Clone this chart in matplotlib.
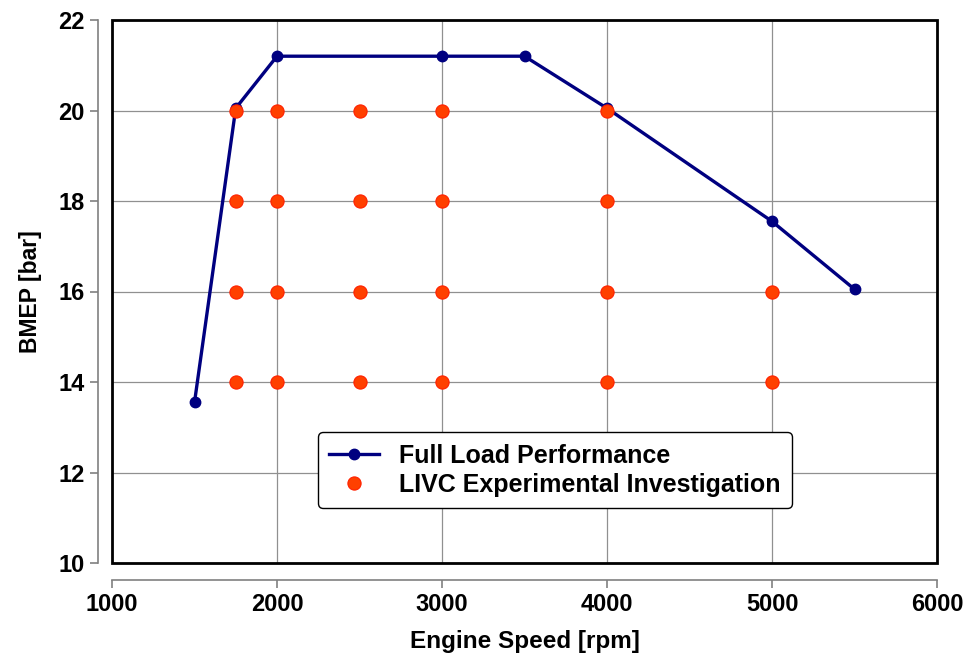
import matplotlib
matplotlib.use("Agg")
import matplotlib.pyplot as plt
from matplotlib.patches import Rectangle

#### -------- データ -------- ####
# Full load curve
full_speed = [1500, 1750, 2000, 3000, 3500, 4000, 5000, 5500]
full_bmep = [13.55, 20.05, 21.2, 21.2, 21.2, 20.05, 17.55, 16.05]

# LIVC experimental points
livc_speed = [1750, 1750, 1750, 1750,
              2000, 2000, 2000, 2000,
              2500, 2500, 2500, 2500,
              3000, 3000, 3000, 3000,
              4000, 4000, 4000, 4000,
              5000, 5000]
livc_bmep = [14, 16, 18, 20,
             14, 16, 18, 20,
             14, 16, 18, 20,
             14, 16, 18, 20,
             14, 16, 18, 20,
             14, 16]

x_ticks = [1000, 2000, 3000, 4000, 5000, 6000]
y_ticks = [10, 12, 14, 16, 18, 20, 22]

#### -------- グラフ設定 -------- ####
plt.rcParams["font.family"] = ["Liberation Sans", "DejaVu Sans"]

fig = plt.figure(figsize=(9.68, 6.56), dpi=100)
ax = fig.add_axes([112 / 968, 1 - 563 / 656, 825 / 968, 543 / 656])

ax.plot(full_speed, full_bmep, color="#000080", lw=2.4, marker="o", ms=7.5,
        label="Full Load Performance", zorder=3)
ax.plot(livc_speed, livc_bmep, linestyle="none", marker="o", ms=9.5,
        color="#FF4000", markeredgecolor="#FF2000", markeredgewidth=0.8,
        label="LIVC Experimental Investigation", zorder=4)

ax.set_xlim(1000, 6000)
ax.set_ylim(10, 22)
ax.set_xticks(x_ticks)
ax.set_yticks(y_ticks)
ax.grid(True, color="#909090", lw=0.9)
ax.set_axisbelow(True)

# black plot-area frame, gray offset axes
ax.add_patch(Rectangle((0, 0), 1, 1, transform=ax.transAxes, fill=False,
                       edgecolor="black", lw=2, zorder=5, clip_on=False))
for side in ["top", "right"]:
    ax.spines[side].set_visible(False)
ax.spines["left"].set_position(("outward", 10))
ax.spines["bottom"].set_position(("outward", 12))
for side in ["left", "bottom"]:
    ax.spines[side].set_color("#808080")
    ax.spines[side].set_linewidth(1.2)
ax.tick_params(direction="out", length=6, width=1.2, color="#808080")

for lbl in ax.get_xticklabels() + ax.get_yticklabels():
    lbl.set_fontweight("bold")
    lbl.set_fontsize(17)

ax.set_xlabel("Engine Speed [rpm]", fontweight="bold", fontsize=17.5,
              labelpad=10)
ax.set_ylabel("BMEP [bar]", fontweight="bold", fontsize=16.5, labelpad=12)

leg = ax.legend(loc="center", bbox_to_anchor=(0.537, 0.171),
                prop={"weight": "bold", "size": 18}, frameon=True,
                fancybox=True, framealpha=1, edgecolor="black",
                handlelength=2.0, handletextpad=0.8, borderpad=0.45,
                labelspacing=0.2)
leg.get_frame().set_linewidth(1.0)

fig.savefig("out.png", dpi=100)
